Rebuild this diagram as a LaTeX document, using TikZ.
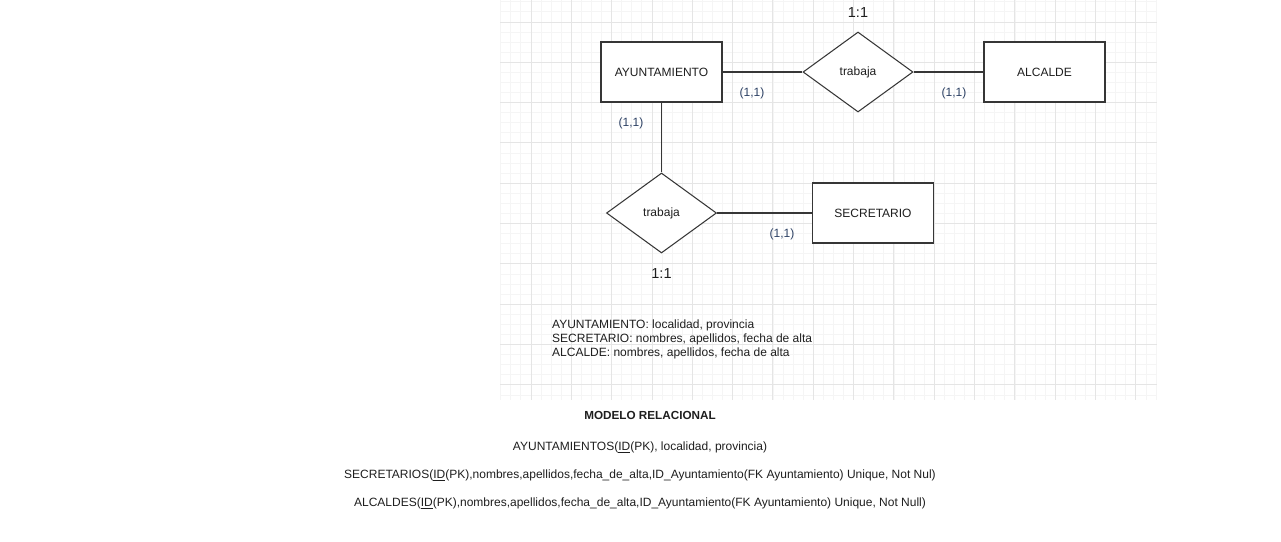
\documentclass[tikz,border=0pt]{standalone}
\usepackage{fontspec}
\setmainfont{Liberation Sans}
\usetikzlibrary{shapes.geometric}
\definecolor{minorgrid}{RGB}{245,245,245}
\definecolor{majorgrid}{RGB}{229,229,229}
\definecolor{edgecol}{RGB}{54,54,54}
\definecolor{txtcol}{RGB}{30,30,30}
\definecolor{cardcol}{RGB}{45,65,100}
\tikzset{
  entity/.style={draw=edgecol, line width=1.05pt, fill=white, minimum width=121pt, minimum height=60pt, inner sep=0pt, font=\fontsize{12}{14}\selectfont, text=txtcol},
  relation/.style={draw=edgecol, line width=1.05pt, fill=white, shape=diamond, minimum width=110pt, minimum height=80pt, inner sep=0pt, font=\fontsize{12}{14}\selectfont, text=txtcol},
  link/.style={draw=edgecol, line width=1.05pt},
  card/.style={font=\fontsize{12}{14}\selectfont, text=cardcol, inner sep=0pt},
  ratio/.style={font=\fontsize{14.5}{16}\selectfont, text=txtcol, inner sep=0pt},
  plain/.style={font=\fontsize{12}{14}\selectfont, text=txtcol, inner sep=0pt},
}
\begin{document}
\begin{tikzpicture}[x=1pt,y=-1pt]
\useasboundingbox (0,0) rectangle (1281,541);
% grid
\foreach \i in {-3,...,62} {
  \pgfmathsetmacro{\gx}{531+10.083*\i}
  \draw[minorgrid, line width=1pt] (\gx,0) -- (\gx,400);
}
\foreach \j in {-2,...,37} {
  \pgfmathsetmacro{\gy}{22+10.083*\j}
  \draw[minorgrid, line width=1pt] (500,\gy) -- (1157,\gy);
}
\foreach \i in {0,...,15} {
  \pgfmathsetmacro{\gx}{531+40.33*\i}
  \draw[majorgrid, line width=1pt] (\gx,0) -- (\gx,400);
}
\foreach \j in {0,...,9} {
  \pgfmathsetmacro{\gy}{22+40.33*\j}
  \draw[majorgrid, line width=1pt] (500,\gy) -- (1157,\gy);
}
% entities and relations
\node[entity] (ayu) at (661.5,72) {AYUNTAMIENTO};
\node[entity] (alc) at (1044.5,72) {ALCALDE};
\node[entity] (sec) at (873,213) {SECRETARIO};
\node[relation] (r1) at (858,72) {trabaja};
\node[relation] (r2) at (661.5,213) {trabaja};
\draw[link] (ayu.east) -- (r1.west);
\draw[link] (r1.east) -- (alc.west);
\draw[link] (ayu.south) -- (r2.north);
\draw[link] (r2.east) -- (sec.west);
% cardinalities
\node[card] (c1) at (752,93.5) {(1,1)};
\node[card] (c2) at (954,93.5) {(1,1)};
\node[card] (c3) at (631,123.5) {(1,1)};
\node[card] (c4) at (782,234.5) {(1,1)};
\node[ratio] (t1) at (858,12.5) {1:1};
\node[ratio] (t2) at (661.5,273.5) {1:1};
% attributes
\node[plain, anchor=west] (a1) at (552,325.5) {AYUNTAMIENTO: localidad, provincia};
\node[plain, anchor=west] (a2) at (552,339.5) {SECRETARIO: nombres, apellidos, fecha de alta};
\node[plain, anchor=west] (a3) at (552,353.5) {ALCALDE: nombres, apellidos, fecha de alta};
% relational model
\node[plain, font=\fontsize{11.7}{14}\selectfont\bfseries] (m0) at (650,415.5) {MODELO RELACIONAL};
\node[plain] (m1) at (640,447.5) {AYUNTAMIENTOS(\underline{ID}(PK), localidad, provincia)};
\node[plain] (m2) at (640,475.5) {SECRETARIOS(\underline{ID}(PK),nombres,apellidos,fecha\_de\_alta,ID\_Ayuntamiento(FK Ayuntamiento) Unique, Not Nul)};
\node[plain] (m3) at (640,503.5) {ALCALDES(\underline{ID}(PK),nombres,apellidos,fecha\_de\_alta,ID\_Ayuntamiento(FK Ayuntamiento) Unique, Not Null)};
\end{tikzpicture}
\end{document}
